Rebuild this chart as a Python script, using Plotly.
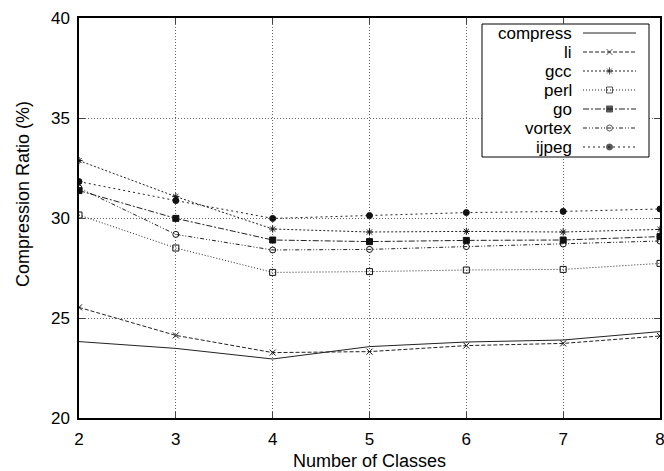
import plotly.graph_objects as go

classes = [2, 3, 4, 5, 6, 7, 8]
compress = [23.82, 23.48, 22.95, 23.57, 23.80, 23.90, 24.32]
li = [25.53, 24.13, 23.27, 23.32, 23.62, 23.73, 24.10]
gcc = [32.87, 31.07, 29.45, 29.30, 29.33, 29.30, 29.43]
perl = [30.15, 28.50, 27.28, 27.32, 27.40, 27.43, 27.73]
go_ = [31.37, 29.98, 28.90, 28.82, 28.88, 28.90, 29.07]
vortex = [31.50, 29.18, 28.40, 28.43, 28.57, 28.70, 28.85]
ijpeg = [31.82, 30.87, 29.98, 30.12, 30.27, 30.33, 30.45]
y_ticks = [20, 25, 30, 35, 40]

series = [
    ("compress", compress, "solid", None),
    ("li", li, "4px,2px", "x-thin-open"),
    ("gcc", gcc, "2px,2px", "asterisk-open"),
    ("perl", perl, "1px,2px", "square-open"),
    ("go", go_, "6px,2px,2px,2px", "square"),
    ("vortex", vortex, "4px,2px,1px,2px,1px,2px", "circle-open"),
    ("ijpeg", ijpeg, "2px,3px", "circle"),
]

FONT = "Liberation Sans, Arial, sans-serif"
L, R, T, B = 79, 660, 18, 418  # plot area in page pixels
W, H = 664, 471
XMIN, XMAX, YMIN, YMAX = 2, 8, 20, 40


def px2x(px):
    return XMIN + (px - L) / (R - L) * (XMAX - XMIN)


def py2y(py):
    return YMAX - (py - T) / (B - T) * (YMAX - YMIN)


fig = go.Figure()
for name, vals, dash, sym in series:
    fig.add_trace(go.Scatter(
        x=classes, y=vals, name=name, showlegend=False,
        mode="lines+markers" if sym else "lines",
        line=dict(color="#222222", width=1, dash=dash),
        marker=dict(symbol=sym or "circle", size=6, color="#111111",
                    line=dict(color="#111111", width=1)),
    ))

# custom legend (text right-aligned, sample on the right)
leg_x0, leg_x1, leg_y0, leg_y1 = 482, 649, 24, 157
row0, row_step = 33, 19
samp_x0, samp_x1, text_right = 583, 636, 574
for i, (name, vals, dash, sym) in enumerate(series):
    yy = py2y(row0 + i * row_step)
    xs = [px2x(samp_x0), px2x((samp_x0 + samp_x1) / 2), px2x(samp_x1)]
    fig.add_trace(go.Scatter(
        x=xs, y=[yy, yy, yy], showlegend=False, hoverinfo="skip",
        mode="lines+markers" if sym else "lines",
        line=dict(color="#222222", width=1, dash=dash),
        marker=dict(symbol=sym or "circle", size=[0, 6, 0], color="#111111",
                    line=dict(color="#111111", width=1)),
    ))
    fig.add_annotation(x=px2x(text_right), y=yy, xref="x", yref="y", text=name,
                       showarrow=False, xanchor="right", yanchor="middle",
                       font=dict(family=FONT, size=17, color="black"))

fig.add_shape(type="rect", xref="x", yref="y",
              x0=px2x(leg_x0), x1=px2x(leg_x1), y0=py2y(leg_y0), y1=py2y(leg_y1),
              line=dict(color="black", width=1), fillcolor="white", layer="between")

# y-axis title as annotation (slightly above centre in reference)
fig.add_annotation(xref="paper", yref="paper",
                   x=(23 - L) / (R - L), y=(B - 194) / (B - T),
                   text="Compression Ratio (%)", textangle=-90, showarrow=False,
                   xanchor="center", yanchor="middle",
                   font=dict(family=FONT, size=18, color="black"))

fig.update_layout(
    width=W, height=H,
    margin=dict(l=L, r=W - R, t=T, b=H - B, autoexpand=False),
    paper_bgcolor="white", plot_bgcolor="white",
    font=dict(family=FONT, size=17, color="black"),
    showlegend=False,
    xaxis=dict(
        range=[XMIN, XMAX], tickvals=classes, ticks="inside", ticklen=6,
        showline=True, linecolor="black", linewidth=1.5, mirror="ticks",
        showgrid=True, gridcolor="#666666", griddash="1px,2px", gridwidth=1,
        tickfont=dict(family=FONT, size=17, color="black"), zeroline=False,
        ticklabelstandoff=5, automargin=False, ticklabeloverflow="allow",
        title=dict(text="Number of Classes", font=dict(family=FONT, size=18), standoff=9),
    ),
    yaxis=dict(
        range=[YMIN, YMAX], tickvals=y_ticks, ticks="inside", ticklen=6,
        showline=True, linecolor="black", linewidth=1.5, mirror="ticks",
        showgrid=True, gridcolor="#666666", griddash="1px,2px", gridwidth=1,
        tickfont=dict(family=FONT, size=17, color="black"), zeroline=False,
        ticklabelstandoff=4, automargin=False, ticklabeloverflow="allow",
    ),
)
fig.write_html("out.html")
